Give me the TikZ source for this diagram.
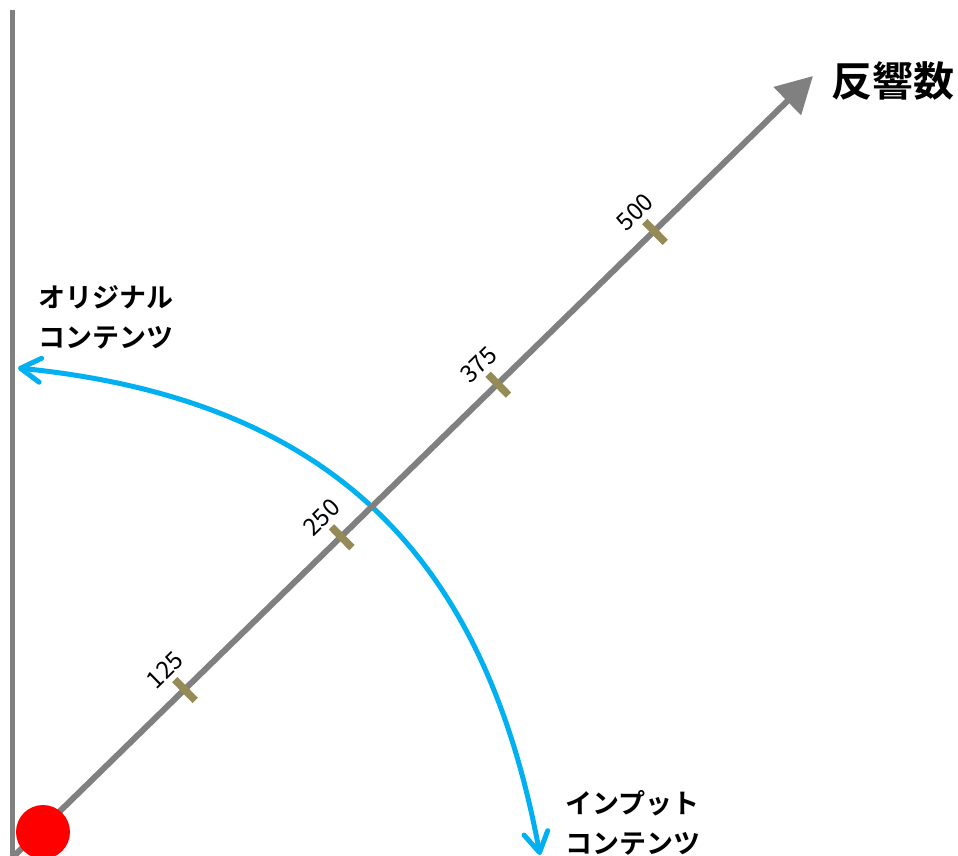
\documentclass[tikz,border=0pt]{standalone}
\usepackage{fontspec}
\newfontfamily\cjk{Noto Sans CJK JP}[BoldFont={Noto Sans CJK JP Bold}]
\usetikzlibrary{arrows.meta,calc}
\definecolor{axisgray}{HTML}{808080}
\definecolor{tickolive}{HTML}{958B57}
\definecolor{arcblue}{HTML}{00B0F0}
\definecolor{dotred}{HTML}{FF0000}
\begin{document}
\begin{tikzpicture}[x=1pt,y=-1pt,
  wallline/.style={draw=axisgray,line width=5pt},
  axisline/.style={draw=axisgray,line width=6pt,-{Triangle[length=36pt,width=38pt]}},
  tickmark/.style={draw=tickolive,line width=7.5pt},
  ticklabel/.style={font=\cjk\fontsize{24}{24}\selectfont,rotate=44.4,inner sep=0pt},
  arcline/.style={draw=arcblue,line width=5pt,
     {Straight Barb[length=20pt,width=24pt,round]}-{Straight Barb[length=20pt,width=24pt,round]}},
  lbl/.style={font=\cjk\bfseries\fontsize{27}{40}\selectfont,align=left,anchor=west,inner sep=0pt},
  dot/.style={circle,fill=dotred,minimum size=54pt,inner sep=0pt}]
\useasboundingbox (0,0) rectangle (958,856);
% wall
\coordinate (wtop) at (12,10);
\coordinate (wbot) at (12,860);
\draw[wallline] (wtop) -- (wbot);
% arc
\coordinate (arcS) at (18,368);
\coordinate (arcE) at (540,855);
\draw[arcline] (arcS) .. controls (335,400) and (485,560) .. (arcE);
% axis
\coordinate (O) at (13,857);
\coordinate (T) at (813,76);
\draw[axisline] (O) -- (T);
% ticks
\coordinate (t125) at (185,690);
\coordinate (t250) at (341.7,537.3);
\coordinate (t375) at (498.3,384.7);
\coordinate (t500) at (655,232);
\foreach \t in {125,250,375,500}{
  \draw[tickmark] ($(t\t)+(-10.2,-10.4)$) -- ($(t\t)+(10.2,10.4)$);
  \node[ticklabel] (l\t) at ($(t\t)+(-20,-20)$) {\t};
}
% red dot
\node[dot] (src) at (43,832) {};
% labels
\node[font=\cjk\bfseries\fontsize{41}{41}\selectfont,inner sep=0pt] (yl) at (893,81) {反響数};
\node[lbl] (orig) at (38,317) {オリジナル\\コンテンツ};
\node[lbl] (inp) at (565,823) {インプット\\コンテンツ};
\end{tikzpicture}
\end{document}
